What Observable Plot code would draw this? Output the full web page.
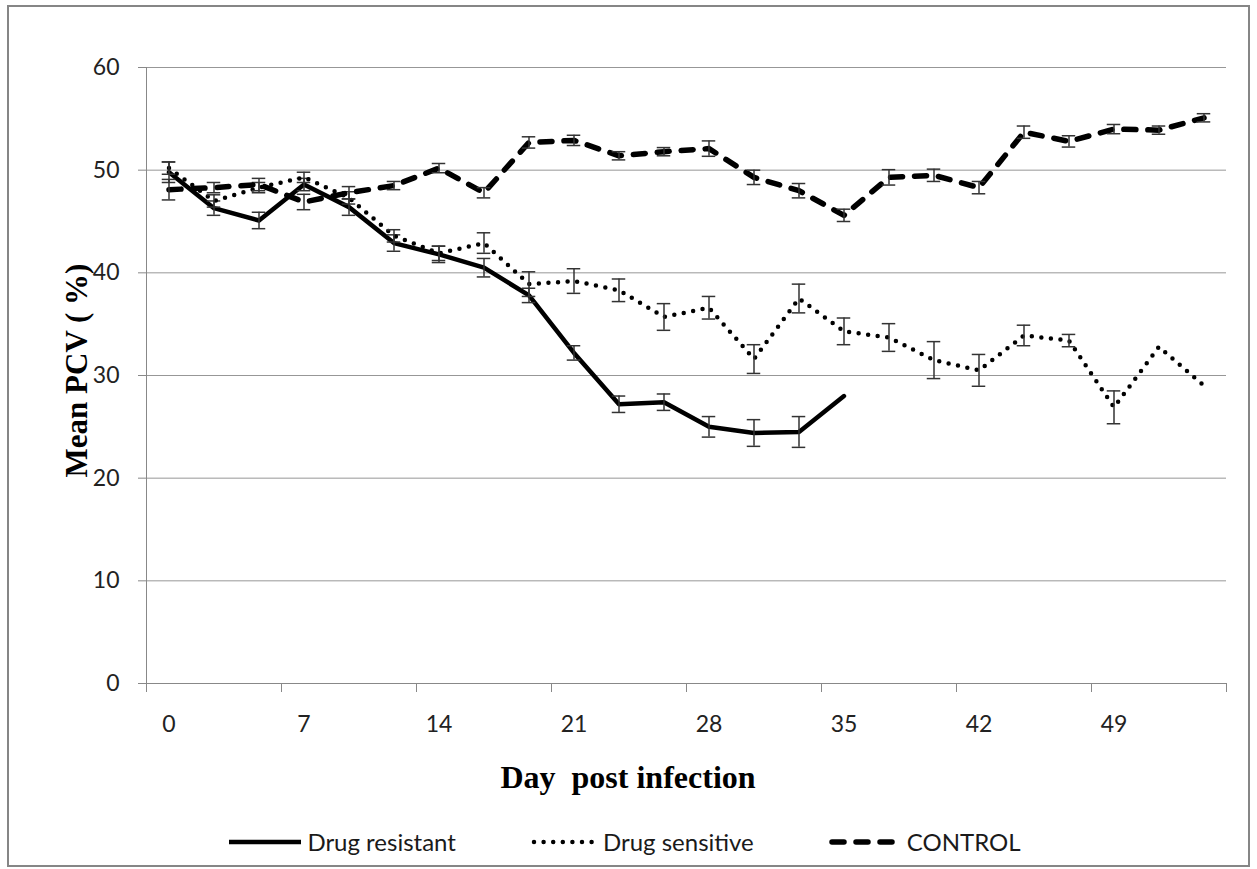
<!DOCTYPE html>
<html>
<head>
<meta charset="utf-8">
<script src="https://cdn.jsdelivr.net/npm/d3@7"></script>
<script src="https://cdn.jsdelivr.net/npm/@observablehq/plot@0.6"></script>
<style>
  html, body { margin: 0; padding: 0; background: #fff; }
  #wrap { position: relative; width: 1257px; height: 869px; overflow: hidden; }
  #frame { position: absolute; left: 7px; top: 5px; width: 1243px; height: 862px; box-sizing: border-box; border: 2px solid #868686; pointer-events: none; }
  #chart { position: absolute; left: 0; top: 0; }
  #legend { position: absolute; left: 0; top: 826px; width: 1250px; display: flex; justify-content: center; gap: 75px; font-family: Lato, sans-serif; font-size: 24px; color: #1a1a1a; }
  .item { display: flex; align-items: center; }
  .item svg { margin-right: 6px; }
</style>
</head>
<body>
<div id="wrap">
  <div id="chart"></div>
  <div id="legend"></div>
  <div id="frame"></div>
</div>
<script>
// Category positions (24 sampling points) and their axis labels
const categories = d3.range(24);
const dayLabels = ["0", "7", "14", "21", "28", "35", "42", "49"];
const labelEvery = 3;

const seriesNames = ["Drug resistant", "Drug sensitive", "CONTROL"];

const drugResistant = [49.8, 46.3, 45.1, 48.6, 46.4, 42.9, 41.8, 40.5, 37.8, 32.2, 27.2, 27.4, 25.0, 24.4, 24.5, 28.0];
const drugResistantErr = [1.0, 0.7, 0.8, 0.6, 0.8, 0.8, 0.8, 0.9, 0.7, 0.7, 0.8, 0.8, 1.0, 1.3, 1.5, null];

const drugSensitive = [50.2, 47.0, 48.3, 49.3, 47.3, 43.6, 41.9, 42.9, 38.9, 39.2, 38.3, 35.7, 36.6, 31.6, 37.5, 34.3, 33.7, 31.5, 30.5, 33.9, 33.4, 26.9, 32.8, 29.0];
const drugSensitiveErr = [0.6, 0.6, 0.5, 0.5, 0.6, 0.6, 0.7, 1.0, 1.2, 1.2, 1.1, 1.3, 1.1, 1.4, 1.4, 1.3, 1.35, 1.8, 1.55, 1.0, 0.6, 1.6, null, null];

const control = [48.1, 48.3, 48.6, 46.9, 47.8, 48.5, 50.2, 47.8, 52.7, 52.9, 51.4, 51.8, 52.1, 49.3, 48.0, 45.6, 49.3, 49.5, 48.3, 53.7, 52.8, 54.0, 53.9, 55.1];
const controlErr = [1.0, 0.5, 0.6, 0.75, 0.6, 0.4, 0.45, 0.5, 0.55, 0.5, 0.4, 0.4, 0.75, 0.7, 0.7, 0.6, 0.75, 0.6, 0.6, 0.6, 0.55, 0.45, 0.4, 0.4];

const yTicks = [0, 10, 20, 30, 40, 50, 60];

// Build tidy table
function rows(name, vals, errs) {
  return vals.map((v, i) => ({series: name, i: categories[i], v, e: errs[i]}));
}
const dr = rows(seriesNames[0], drugResistant, drugResistantErr);
const ds = rows(seriesNames[1], drugSensitive, drugSensitiveErr);
const ct = rows(seriesNames[2], control, controlErr);
const withErr = a => a.filter(d => d.e != null);

const styles = {
  "Drug resistant": {strokeWidth: 4.5},
  "Drug sensitive": {strokeWidth: 4.5, strokeDasharray: "0 9.6", strokeLinecap: "round"},
  "CONTROL": {strokeWidth: 5.5, strokeDasharray: "12 12", strokeLinecap: "round"}
};

const capHalf = 0.15;
function errMarks(data) {
  const d = withErr(data);
  return [
    Plot.ruleX(d, {x: "i", y1: r => r.v - r.e, y2: r => r.v + r.e, stroke: "#333", strokeWidth: 1.5}),
    Plot.ruleY(d, {y: r => r.v - r.e, x1: r => r.i - capHalf, x2: r => r.i + capHalf, stroke: "#333", strokeWidth: 1.5}),
    Plot.ruleY(d, {y: r => r.v + r.e, x1: r => r.i - capHalf, x2: r => r.i + capHalf, stroke: "#333", strokeWidth: 1.5})
  ];
}

const boundaries = d3.range(-0.5, categories.length, labelEvery);
const labelPositions = dayLabels.map((_, k) => k * labelEvery);

const serif = "'Liberation Serif', 'DejaVu Serif', serif";

const chart = Plot.plot({
  width: 1257,
  height: 815,
  marginLeft: 146,
  marginRight: 31,
  marginTop: 67,
  marginBottom: 132,
  x: {domain: [-0.5, categories.length - 0.5], axis: null, label: null},
  y: {domain: [0, 60], axis: null, label: null},
  style: {fontFamily: "Lato, sans-serif", background: "transparent", overflow: "visible"},
  marks: [
    Plot.gridY({ticks: yTicks, stroke: "#979797", strokeOpacity: 1}),
    Plot.axisY({ticks: yTicks, tickSize: 8, tickPadding: 19, fontSize: 23, stroke: "#888", fill: "#222", label: null}),
    Plot.ruleX([-0.5], {stroke: "#888"}),
    Plot.ruleY([0], {stroke: "#888"}),
    Plot.axisX({ticks: boundaries, tickSize: 9, tickFormat: () => "", stroke: "#888", label: null}),
    Plot.axisX({ticks: labelPositions, tickSize: 0, tickPadding: 32, fontSize: 23, fill: "#222", label: null,
                tickFormat: i => dayLabels[Math.round(i / labelEvery)]}),
    Plot.line(dr, {x: "i", y: "v", stroke: "#000", strokeLinejoin: "round", ...styles["Drug resistant"]}),
    ...errMarks(dr),
    Plot.line(ds, {x: "i", y: "v", stroke: "#000", ...styles["Drug sensitive"]}),
    ...errMarks(ds),
    Plot.line(ct, {x: "i", y: "v", stroke: "#000", strokeLinejoin: "round", ...styles["CONTROL"]}),
    ...errMarks(ct),
    Plot.text(["Day\u00A0 post infection"], {frameAnchor: "bottom", textAnchor: "middle", dy: 104, dx: -58.5,
      fontFamily: serif, fontWeight: "bold", fontSize: 32, fill: "#000"}),
    Plot.text(["Mean PCV ( %)"], {frameAnchor: "left", textAnchor: "middle", rotate: -90, dx: -69, dy: -5,
      fontFamily: serif, fontWeight: "bold", fontSize: 31, fill: "#000"})
  ]
});
document.getElementById("chart").appendChild(chart);

// Legend
const legend = document.getElementById("legend");
const legendSpec = [
  {name: seriesNames[0], w: 72, ...styles["Drug resistant"]},
  {name: seriesNames[1], w: 66, ...styles["Drug sensitive"]},
  {name: seriesNames[2], w: 72, ...styles["CONTROL"]}
];
legendSpec.forEach(s => {
  const item = document.createElement("div");
  item.className = "item";
  const svg = d3.create("svg").attr("width", s.w).attr("height", 30);
  svg.append("line")
    .attr("x1", s.strokeLinecap === "round" ? 3 : 0).attr("x2", s.strokeLinecap === "round" ? s.w - 3 : s.w)
    .attr("y1", 16).attr("y2", 16)
    .attr("stroke", "#000")
    .attr("stroke-width", s.strokeWidth)
    .attr("stroke-dasharray", s.strokeDasharray || null)
    .attr("stroke-linecap", s.strokeLinecap || "butt");
  item.appendChild(svg.node());
  const span = document.createElement("span");
  span.textContent = s.name;
  item.appendChild(span);
  legend.appendChild(item);
});
</script>
</body>
</html>
